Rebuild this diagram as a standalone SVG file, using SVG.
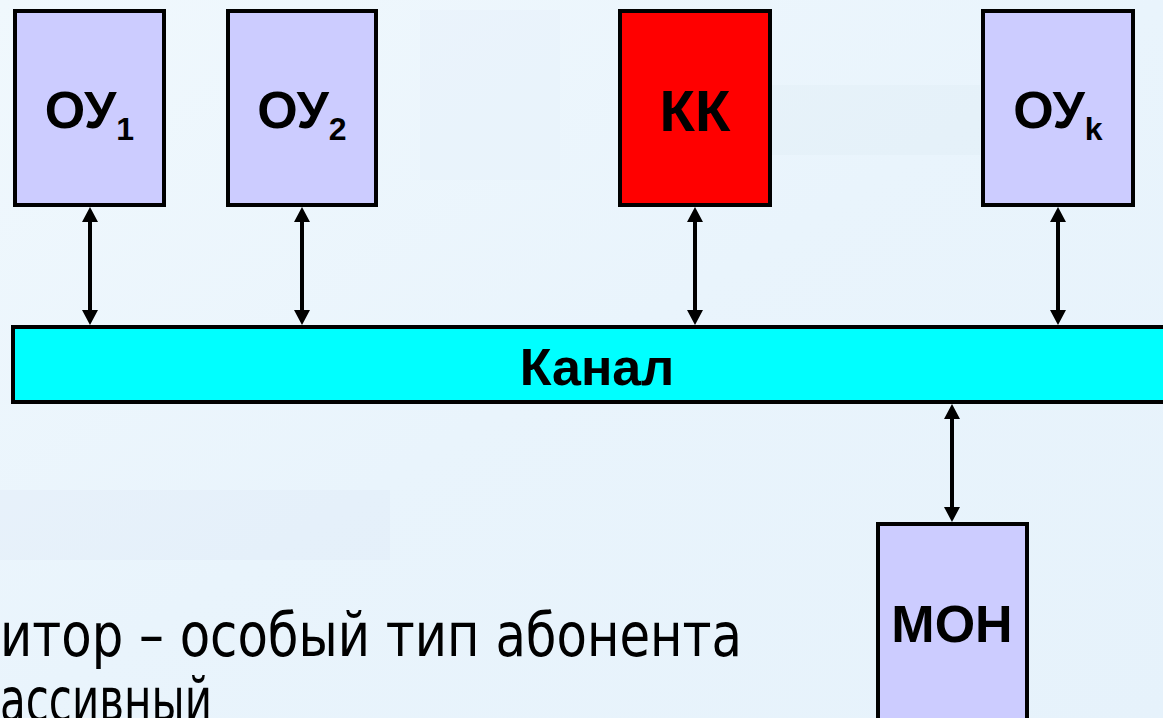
<svg xmlns="http://www.w3.org/2000/svg" width="1163" height="718" viewBox="0 0 1163 718">
  <defs>
    <linearGradient id="bg" x1="0" y1="0" x2="1" y2="1">
      <stop offset="0" stop-color="#f0f8fd"/>
      <stop offset="0.5" stop-color="#e9f4fc"/>
      <stop offset="1" stop-color="#e6f2fb"/>
    </linearGradient>
    <path id="up" d="M0,0 L8,15 L-8,15 Z"/>
    <path id="dn" d="M0,0 L8,-15 L-8,-15 Z"/>
    <style>
      .box { stroke: #000; stroke-width: 4; }
      .ou { fill: #ccccff; }
      .kk { fill: #ff0000; }
      .ch { fill: #00ffff; }
      .lbl { font-family: "Liberation Sans", Arial, sans-serif; font-weight: bold; font-size: 52px; fill: #000; text-anchor: middle; }
      .sub { font-size: 32px; }
      .body { font-family: "DejaVu Sans Condensed", "DejaVu Sans", sans-serif; font-size: 60px; fill: #000; }
      .con line { stroke: #000; stroke-width: 4; }
      .con use { fill: #000; }
    </style>
  </defs>
  <rect x="0" y="0" width="1163" height="718" fill="url(#bg)"/>
  <g opacity="0.2">
    <rect x="0" y="490" width="390" height="70" fill="#d5e3f4"/>
    <rect x="420" y="10" width="140" height="170" fill="#dfebf8"/>
    <rect x="770" y="85" width="210" height="70" fill="#d8e4f2"/>
  </g>

  <g id="connectors" class="con">
    <line x1="90" y1="214" x2="90" y2="318"/>
    <use href="#up" x="90" y="207"/><use href="#dn" x="90" y="325"/>
    <line x1="302" y1="214" x2="302" y2="318"/>
    <use href="#up" x="302" y="207"/><use href="#dn" x="302" y="325"/>
    <line x1="695" y1="214" x2="695" y2="318"/>
    <use href="#up" x="695" y="207"/><use href="#dn" x="695" y="325"/>
    <line x1="1058" y1="214" x2="1058" y2="318"/>
    <use href="#up" x="1058" y="207"/><use href="#dn" x="1058" y="325"/>
    <line x1="952" y1="411" x2="952" y2="515"/>
    <use href="#up" x="952" y="404"/><use href="#dn" x="952" y="522"/>
  </g>

  <g id="ou1">
    <rect class="box ou" x="15" y="11" width="149" height="194"/>
    <text class="lbl" x="89.5" y="128">ОУ<tspan class="sub" dy="12">1</tspan></text>
  </g>
  <g id="ou2">
    <rect class="box ou" x="228" y="11" width="148" height="194"/>
    <text class="lbl" x="302" y="128">ОУ<tspan class="sub" dy="12">2</tspan></text>
  </g>
  <g id="kk">
    <rect class="box kk" x="620" y="11" width="150" height="194"/>
    <text class="lbl" x="695" y="131" style="font-size:58px">КК</text>
  </g>
  <g id="ouk">
    <rect class="box ou" x="983" y="11" width="150" height="194"/>
    <text class="lbl" x="1058" y="128">ОУ<tspan class="sub" dy="12">k</tspan></text>
  </g>
  <g id="channel">
    <rect class="box ch" x="13" y="327" width="1160" height="75"/>
    <text class="lbl" x="597" y="385">Канал</text>
  </g>
  <g id="mon">
    <rect class="box ou" x="878" y="524" width="149" height="220"/>
    <text class="lbl" x="952" y="642">МОН</text>
  </g>

  <text class="body" x="0" y="656" textLength="742" lengthAdjust="spacingAndGlyphs">итор – особый тип абонента</text>
  <text class="body" x="0" y="721" textLength="212" lengthAdjust="spacingAndGlyphs">ассивный</text>
</svg>
